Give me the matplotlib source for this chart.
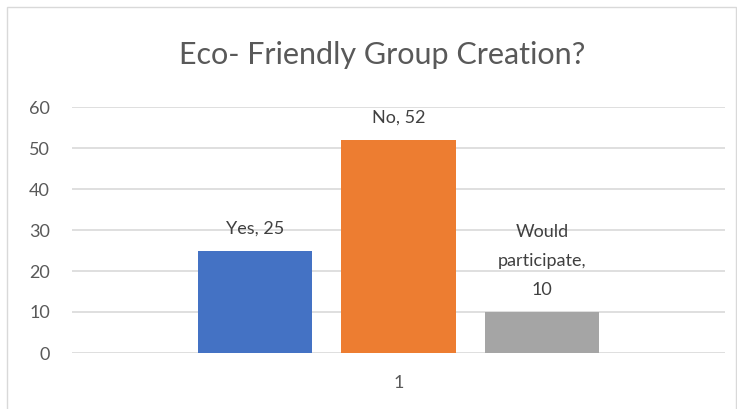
import matplotlib.pyplot as plt
from matplotlib.patches import Rectangle

plt.rcParams['font.family'] = ['Lato', 'DejaVu Sans']

labels = ['Yes, 25', 'No, 52', 'Would\nparticipate,\n10']
values = [25, 52, 10]
colors = ['#4472C4', '#ED7D31', '#A5A5A5']
yticks = [0, 10, 20, 30, 40, 50, 60]
category = '1'

fig = plt.figure(figsize=(7.37, 4.09), dpi=100)
W, H = 737, 409
ax = fig.add_axes([72 / W, 1 - 353 / H, (725 - 72) / W, (353 - 107) / H])

# chart border
fig.patches.append(Rectangle((7 / W, -0.05), 729 / W, 1 - 7 / H + 0.05,
                             transform=fig.transFigure, fill=False,
                             edgecolor='#D9D9D9', linewidth=1))

offsets = [-0.22, 0, 0.22]
width = 0.175
for lab, v, c, off in zip(labels, values, colors, offsets):
    ax.bar(off, v, width=width, color=c, zorder=3)
    ax.text(off, v + 3.5, lab, ha='center', va='bottom',
            fontsize=13, color='#404040', linespacing=2.0)

ax.set_xlim(-0.5, 0.5)
ax.set_ylim(0, 60)
ax.set_yticks(yticks)
ax.set_xticks([0])
ax.set_xticklabels([category])
ax.tick_params(length=0, labelsize=13, labelcolor='#595959')
ax.tick_params(axis='y', pad=16)
ax.tick_params(axis='x', pad=16)
ax.grid(axis='y', color='#D9D9D9', linewidth=1.2, zorder=0)
for s in ax.spines.values():
    s.set_visible(False)

fig.text(382 / W, 1 - 55 / H, 'Eco- Friendly Group Creation?', ha='center',
         va='center', fontsize=22, color='#595959')

fig.savefig('out.png', dpi=100)
